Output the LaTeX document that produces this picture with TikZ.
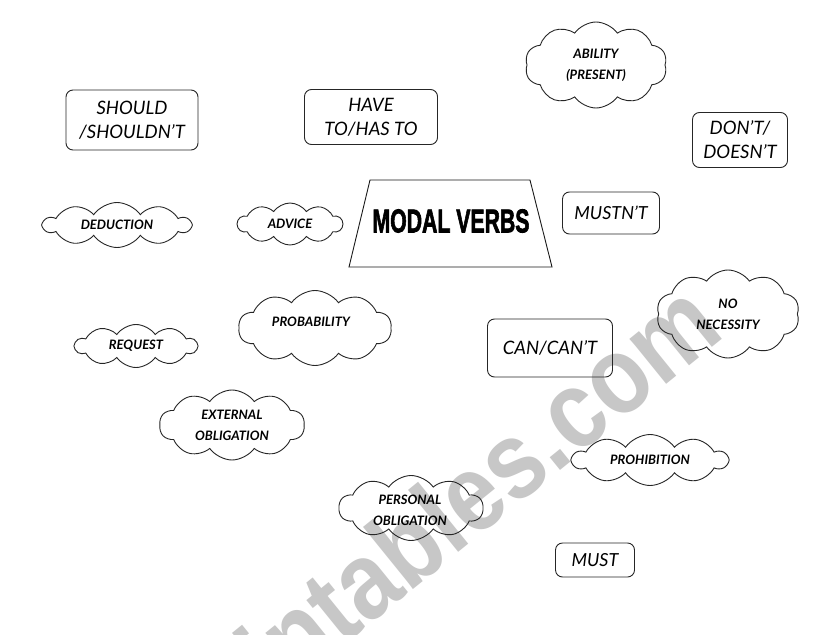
\documentclass[tikz,border=0pt]{standalone}
\usepackage{fontspec}
\setmainfont{Lato}
\newfontfamily\wmfont{Liberation Sans}
\newfontfamily\heavy{Liberation Sans}[BoldFeatures={FakeBold=2.5}]
\usetikzlibrary{shapes.symbols,shapes.geometric}
\begin{document}
\begin{tikzpicture}[x=1pt,y=-1pt,
  rbox/.style={draw=black!85,line width=0.9pt,rounded corners=7pt,inner sep=0pt,
    align=center,font=\fontsize{18.5}{24}\selectfont\itshape},
  puff/.style={draw=black!85,line width=0.9pt,cloud,cloud puffs=10,cloud puff arc=110,
    cloud ignores aspect,inner sep=0pt,align=center,
    font=\fontsize{13}{21}\selectfont\itshape\bfseries},
  ptext/.style={font=\fontsize{13}{21}\selectfont\itshape\bfseries,align=center,inner sep=0pt},
  wm/.style={text=black!22,inner sep=0pt,font=\wmfont\bfseries\fontsize{110}{110}\selectfont}]
\useasboundingbox (0,0) rectangle (821,634);
\fill[white] (0,0) rectangle (821,634);
% watermark
\node[wm,rotate=39,anchor=base east] (wmark) at (727,335) {\scalebox{0.86}[1]{eslprintables.com}};
% boxes
\node[rbox,minimum width=132pt,minimum height=60pt] (should) at (132,120) {SHOULD\\/SHOULDN'T};
\node[rbox,minimum width=133pt,minimum height=55pt] (have) at (371,117) {HAVE\\TO/HAS TO};
\node[rbox,minimum width=95pt,minimum height=55pt] (dont) at (740,140) {DON'T/\\DOESN'T};
\node[rbox,minimum width=97pt,minimum height=42pt,font=\fontsize{18}{22}\selectfont\itshape] (mustnt) at (611,213) {MUSTN'T};
\node[rbox,minimum width=125pt,minimum height=58pt] (can) at (550,348) {CAN/CAN'T};
\node[rbox,minimum width=79pt,minimum height=34pt,font=\fontsize{18}{22}\selectfont\itshape] (must) at (595,560) {MUST};
% trapezoid
\coordinate (t1) at (370,180);
\coordinate (t2) at (530,180);
\coordinate (t3) at (552,267);
\coordinate (t4) at (349,267);
\draw[line width=0.9pt,black!90] (t1) -- (t2) -- (t3) -- (t4) -- cycle;
\node[inner sep=0pt] (modal) at (451,221) {\resizebox{157pt}{23pt}{\heavy\bfseries MODAL VERBS}};
% clouds
\node[puff,minimum width=142pt,minimum height=86pt] (ability) at (596,65) {ABILITY\\(PRESENT)};
\node[puff,minimum width=147pt,minimum height=45pt] (deduction) at (117,225) {DEDUCTION};
\node[puff,minimum width=105pt,minimum height=42pt] (advice) at (290,224) {ADVICE};
\node[puff,minimum width=153pt,minimum height=75pt] (prob) at (315,328) {};
\node[ptext] (probt) at (311,322) {PROBABILITY};
\node[puff,minimum width=122pt,minimum height=43pt] (request) at (136,346) {REQUEST};
\node[puff,minimum width=145pt,minimum height=70pt] (external) at (232,425) {EXTERNAL\\OBLIGATION};
\node[puff,minimum width=143pt,minimum height=88pt] (nonec) at (728,314) {NO\\NECESSITY};
\node[puff,minimum width=155pt,minimum height=51pt] (prohib) at (650,460) {PROHIBITION};
\node[puff,minimum width=144pt,minimum height=65pt] (personal) at (411,508) {};
\node[ptext] (personalt) at (410,510) {PERSONAL\\OBLIGATION};
\end{tikzpicture}
\end{document}
